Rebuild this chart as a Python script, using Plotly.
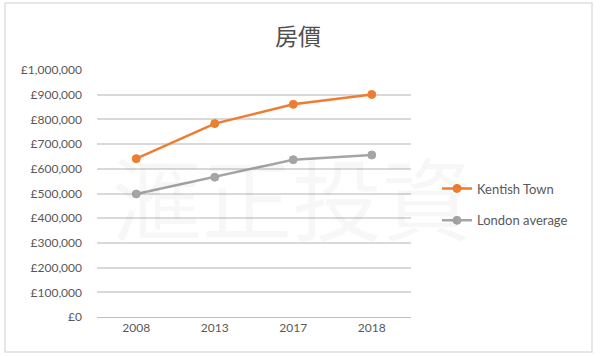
import plotly.graph_objects as go

years = ["2008", "2013", "2017", "2018"]
kentish_town = [641000, 783000, 861000, 901000]
london_average = [498000, 566000, 637000, 656000]
y_ticks = [0, 100000, 200000, 300000, 400000, 500000, 600000, 700000, 800000, 900000, 1000000]
y_tick_labels = ["£0", "£100,000", "£200,000", "£300,000", "£400,000", "£500,000",
                 "£600,000", "£700,000", "£800,000", "£900,000", "£1,000,000"]
title_text = "房價"
watermark = "滙正投資"

fig = go.Figure()
fig.add_trace(go.Scatter(x=years, y=kentish_town, name="Kentish Town", mode="lines+markers",
                         legendgroup="a",
                         line=dict(color="#ED7D31", width=2.5),
                         marker=dict(color="#ED7D31", size=8, line=dict(color="#ED7D31", width=1))))
fig.add_trace(go.Scatter(x=years, y=london_average, name="London average", mode="lines+markers",
                         legendgroup="b",
                         line=dict(color="#A5A5A5", width=2.5),
                         marker=dict(color="#A5A5A5", size=8, line=dict(color="#A5A5A5", width=1))))

PL, PR, PT, PB = 97, 411, 70, 317
W, H = 600, 356
pw, ph = PR - PL, PB - PT

fig.update_layout(
    width=W, height=H,
    margin=dict(l=PL, r=W - PR, t=PT, b=H - PB),
    paper_bgcolor="white", plot_bgcolor="white",
    title=dict(text=title_text, x=298 / W, xref="container", xanchor="center",
               y=1 - 37 / H, yref="container", yanchor="middle",
               font=dict(family="Noto Sans CJK TC", size=23, color="#505050")),
    font=dict(family="Lato, Open Sans, sans-serif", size=12, color="#595959"),
    xaxis=dict(type="category", showgrid=False, showline=True, linecolor="#BFBFBF",
               linewidth=1, ticks="", tickfont=dict(size=12, color="#595959"),
               range=[-0.5, 3.5]),
    yaxis=dict(range=[0, 1000000], tickvals=y_ticks, ticktext=y_tick_labels,
               showgrid=True, gridcolor="#D9D9D9", gridwidth=1.5, zeroline=False,
               ticks="", ticklabelstandoff=14, tickfont=dict(size=12, color="#595959")),
    legend=dict(x=(437 - PL) / pw, xanchor="left", y=(PB - 204.5) / ph, yanchor="middle",
                font=dict(size=13, color="#595959"), tracegroupgap=12,
                bgcolor="rgba(0,0,0,0)"),
    showlegend=True,
)

fig.add_annotation(text=watermark, xref="paper", yref="paper",
                   x=(292 - PL) / pw, y=(PB - 195) / ph,
                   xanchor="center", yanchor="middle", showarrow=False,
                   font=dict(family="Noto Sans CJK TC", size=90, color="rgba(0,0,0,0.03)"))

fig.add_shape(type="rect", xref="paper", yref="paper",
              x0=(5 - PL) / pw, x1=(592 - PL) / pw, y0=(PB - 352) / ph, y1=(PB - 3) / ph,
              line=dict(color="#E0E0E0", width=1.5), fillcolor="rgba(0,0,0,0)", layer="below")

fig.write_html("out.html", config={"displayModeBar": False},
               post_script="document.body.style.margin='0';")
